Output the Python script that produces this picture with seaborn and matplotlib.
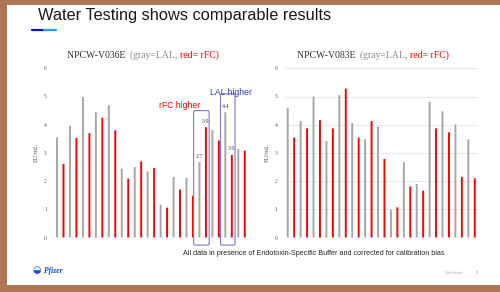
import numpy as np
import pandas as pd
import seaborn as sns
import matplotlib.pyplot as plt
from matplotlib.patches import Rectangle, FancyBboxPatch
from matplotlib.lines import Line2D

# valores (EU/mL), alternando LAL (cinza) e rFC (vermelho)
v036_lal = [3.55, 3.96, 4.98, 4.44, 4.69, 2.44, 2.50, 2.35, 1.16, 2.15, 2.11, 2.67, 3.81, 4.44, 3.14]
v036_rfc = [2.61, 3.53, 3.70, 4.25, 3.80, 2.09, 2.70, 2.47, 1.06, 1.70, 1.48, 3.91, 3.44, 2.93, 3.08]
v083_lal = [4.60, 4.13, 5.00, 3.42, 5.05, 4.07, 3.49, 3.93, 0.99, 2.67, 1.90, 4.82, 4.47, 4.01, 3.48]
v083_rfc = [3.54, 3.87, 4.16, 3.87, 5.28, 3.54, 4.13, 2.79, 1.07, 1.81, 1.66, 3.87, 3.73, 2.15, 2.10]

# rotulos de valores destacados no primeiro grafico (posicao da barra, texto)
label_pos = [22, 23, 26, 27]
label_txt = ['2.7', '3.9', '4.4', '3.0']

gray = '#a6a6a6'
red = '#ff0000'
brown = '#ad7556'


def make_df(lal, rfc):
    vals, assay = [], []
    for a, b in zip(lal, rfc):
        vals += [a, b]
        assay += ['LAL', 'rFC']
    return pd.DataFrame({'pos': np.arange(len(vals)), 'value': vals, 'assay': assay})


sns.set_theme(style='white')
plt.rcParams['font.family'] = ['Liberation Sans', 'DejaVu Sans']

fig = plt.figure(figsize=(5, 2.92), dpi=100)
fig.patch.set_facecolor(brown)
fig.patches.append(Rectangle((7 / 500, 7 / 292), 1, 280 / 292, transform=fig.transFigure,
                             facecolor='white', edgecolor='none', zorder=-5))

# titulo do slide
fig.text(38 / 500, 1 - 15.5 / 292, 'Water Testing shows comparable results', fontsize=11.8,
         va='center', ha='left', color='#1a1a1a')
fig.lines.append(Line2D([32 / 500, 44 / 500], [1 - 30 / 292] * 2, transform=fig.transFigure,
                        color='#1010c8', lw=1.6))
fig.lines.append(Line2D([44 / 500, 56 / 500], [1 - 30 / 292] * 2, transform=fig.transFigure,
                        color='#2a9df4', lw=1.6))

ax1 = fig.add_axes([53.8 / 500, 54.5 / 292, 194.2 / 500, 169.2 / 292])
ax2 = fig.add_axes([284.5 / 500, 54.5 / 292, 193.5 / 500, 169.2 / 292])

for ax, lal, rfc, grid in [(ax1, v036_lal, v036_rfc, False), (ax2, v083_lal, v083_rfc, True)]:
    df = make_df(lal, rfc)
    sns.barplot(data=df, x='pos', y='value', hue='assay', dodge=False, width=0.3,
                palette={'LAL': gray, 'rFC': red}, saturation=1, linewidth=0,
                legend=False, ax=ax, zorder=2)
    for p in ax.patches:
        p.set_snap(False)
    ax.set_xlim(-0.5, 29.5)
    ax.set_ylim(0, 6)
    ax.set_yticks(range(7))
    ax.set_xticks([])
    ax.set_xlabel('')
    ax.set_ylabel('EU/mL', fontsize=4.5, color='#595959', family=['Liberation Serif'])
    ax.yaxis.set_label_coords(-0.078, 0.5)
    ax.tick_params(axis='y', length=0, pad=5, labelsize=4, labelcolor='#595959')
    for lbl in ax.get_yticklabels():
        lbl.set_family('Liberation Serif')
    for s in ax.spines.values():
        s.set_visible(False)
    ax.set_facecolor('none')
    if grid:
        for g in range(7):
            ax.axhline(g, color='#e4e4e4', lw=0.6, zorder=0)

# rotulos de valor
vals036 = make_df(v036_lal, v036_rfc)['value']
for p, t in zip(label_pos, label_txt):
    ax1.text(p, vals036[p] + 0.12, t, ha='center', va='bottom', fontsize=4.3,
             color='#404040', family=['Liberation Serif'])

# caixas e anotacoes
box_col = '#7a7ad6'
for x0, x1, y1 in [(21.1, 23.5, 4.5), (25.25, 27.5, 5.1)]:
    ax1.add_patch(FancyBboxPatch((x0, -0.27), x1 - x0, y1 + 0.27, boxstyle='round,pad=0,rounding_size=0.25',
                                 fill=False, edgecolor=box_col, lw=0.8, clip_on=False,
                                 mutation_aspect=0.3, zorder=3))
ax1.text(19.0, 4.67, 'rFC higher', color=red, fontsize=6.2, ha='center', va='center')
ax1.text(26.85, 5.13, 'LAL higher', color='#3838d8', fontsize=6.2, ha='center', va='center')

# titulos coloridos dos graficos
renderer = fig.canvas.get_renderer()


def colored_title(x, y, parts):
    for txt, col in parts:
        t = fig.text(x, y, txt, color=col, fontsize=7, va='center', ha='left',
                     family=['Liberation Serif'])
        bb = t.get_window_extent(renderer=renderer)
        x = (bb.x1) / fig.bbox.width


colored_title(66.7 / 500, 1 - 55 / 292, [('NPCW-V036E  ', '#333333'), ('(gray=LAL, ', '#8c8c8c'),
                                        ('red= rFC)', red)])
colored_title(296.7 / 500, 1 - 55 / 292, [('NPCW-V083E  ', '#333333'), ('(gray=LAL, ', '#8c8c8c'),
                                         ('red= rFC)', red)])

# rodape
fig.text(313.5 / 500, 1 - 253.7 / 292,
         'All data in presence of Endotoxin-Specific Buffer and corrected for calibration bias',
         fontsize=5.25, ha='center', va='center', color='#262626')
fig.text(44 / 500, 1 - 271 / 292, 'Pfizer', fontsize=5.5, style='italic', weight='bold',
         color='#0a4fd6', va='center', ha='left', family=['Liberation Serif'])
fig.text(37 / 500, 1 - 270 / 292, '\u25d2', fontsize=7, color='#1554e0', va='center', ha='center',
         family=['DejaVu Sans'])
fig.text(445 / 500, 1 - 273 / 292, 'Confidential', fontsize=2.6, color='#b0b0b0', va='center')
fig.text(476 / 500, 1 - 273 / 292, '11', fontsize=2.6, color='#b0b0b0', va='center')

fig.savefig('out.png', dpi=100, facecolor=fig.get_facecolor())
